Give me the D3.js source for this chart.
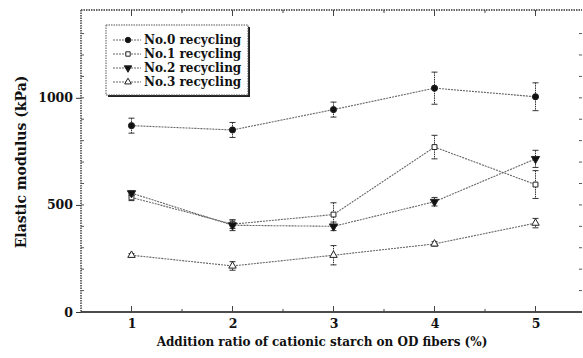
<!DOCTYPE html>
<html>
<head>
<meta charset="utf-8">
<script src="https://cdn.jsdelivr.net/npm/d3@7"></script>
<style>
  body { margin: 0; background: #fff; overflow: hidden; }
  svg { display: block; }
  svg text { font-family: "DejaVu Serif", "Liberation Serif", serif; font-weight: bold; fill: #111; }
</style>
</head>
<body>
<div id="chart"></div>
<script>
'use strict';

const ratios = [1, 2, 3, 4, 5];
const seriesNames = ['No.0 recycling', 'No.1 recycling', 'No.2 recycling', 'No.3 recycling'];
const no0 = [870, 850, 945, 1045, 1005];
const no0Err = [35, 35, 35, 75, 65];
const no1 = [535, 410, 455, 770, 595];
const no1Err = [15, 20, 55, 55, 65];
const no2 = [555, 405, 400, 515, 715];
const no2Err = [10, 25, 20, 20, 40];
const no3 = [265, 215, 265, 318, 415];
const no3Err = [8, 20, 45, 10, 22];
const yTicks = [0, 500, 1000];
const xLabel = 'Addition ratio of cationic starch on OD fibers (%)';
const yLabel = 'Elastic modulus (kPa)';

const width = 583, height = 358;
const padding = { top: 10, right: 1, bottom: 46, left: 81 };
const innerWidth = width - padding.left - padding.right;
const innerHeight = height - padding.top - padding.bottom;

const svg = d3.select('#chart').append('svg')
  .attr('width', width).attr('height', height);
const graph = svg.append('g')
  .attr('transform', 'translate(' + padding.left + ',' + padding.top + ')');

let x = d3.scaleLinear().domain([0.5, 5.5]).range([0, innerWidth + 4]);
let y = d3.scaleLinear().domain([0, 1410]).range([innerHeight, 0]);

// frame: dotted top / left / right, solid bottom
const frame = graph.append('g').attr('stroke', '#333').attr('fill', 'none');
frame.append('line').attr('x1', 0).attr('x2', innerWidth).attr('y1', 0).attr('y2', 0)
  .attr('stroke-dasharray', '1.5,1').attr('stroke-width', 1.4);
frame.append('line').attr('x1', 0).attr('x2', 0).attr('y1', 0).attr('y2', innerHeight)
  .attr('stroke-dasharray', '1.5,1').attr('stroke-width', 1.4);
frame.append('line').attr('x1', 0).attr('x2', innerWidth).attr('y1', innerHeight).attr('y2', innerHeight)
  .attr('stroke-width', 1.6).attr('stroke', '#111');

// y axis
const yAxis = d3.axisLeft(y).tickValues(yTicks).tickSize(5).tickPadding(3).tickFormat(d3.format('d'));
const yG = graph.append('g').call(yAxis);
yG.select('.domain').remove();
yG.selectAll('text').attr('font-size', 12.5);
yG.selectAll('line').attr('stroke', '#333');
// minor y ticks
graph.append('g').selectAll('line').data(d3.range(100, 1400, 100))
  .enter().append('line')
  .attr('x1', 0).attr('x2', 3)
  .attr('y1', d => y(d)).attr('y2', d => y(d))
  .attr('stroke', '#555');
// right-side ticks
graph.append('g').selectAll('line').data(d3.range(100, 1400, 100))
  .enter().append('line')
  .attr('x1', innerWidth - 3).attr('x2', innerWidth)
  .attr('y1', d => y(d)).attr('y2', d => y(d))
  .attr('stroke', '#555');

// x axis
const xAxis = d3.axisBottom(x).tickValues(ratios).tickSize(0).tickPadding(7).tickFormat(d3.format('d'));
const xG = graph.append('g').attr('transform', 'translate(0,' + innerHeight + ')').call(xAxis);
xG.select('.domain').remove();
xG.selectAll('text').attr('font-size', 12.5);
// x ticks pointing up at bottom and down at top
const xTicksAll = ratios.concat([1.5, 2.5, 3.5, 4.5]);
graph.append('g').selectAll('line').data(xTicksAll).enter().append('line')
  .attr('x1', d => x(d)).attr('x2', d => x(d))
  .attr('y1', innerHeight).attr('y2', d => innerHeight - (Number.isInteger(d) ? 6 : 3))
  .attr('stroke', '#444');
graph.append('g').selectAll('line').data(xTicksAll).enter().append('line')
  .attr('x1', d => x(d)).attr('x2', d => x(d))
  .attr('y1', 0).attr('y2', d => (Number.isInteger(d) ? 6 : 3))
  .attr('stroke', '#444');

// axis titles
svg.append('text')
  .attr('x', 322).attr('y', 346)
  .attr('text-anchor', 'middle').attr('font-size', 12)
  .text(xLabel);
svg.append('text')
  .attr('transform', 'translate(26,162) rotate(-90)')
  .attr('text-anchor', 'middle').attr('font-size', 14)
  .text(yLabel);

// series
const series = [
  { name: seriesNames[0], values: no0, err: no0Err, symbol: d3.symbolCircle, size: 30, fill: '#111' },
  { name: seriesNames[1], values: no1, err: no1Err, symbol: d3.symbolSquare, size: 24, fill: '#fff' },
  { name: seriesNames[2], values: no2, err: no2Err, symbol: d3.symbolTriangle, size: 30, fill: '#111', rotate: 180 },
  { name: seriesNames[3], values: no3, err: no3Err, symbol: d3.symbolTriangle, size: 24, fill: '#fff' },
];

const line = d3.line().x((d, i) => x(ratios[i])).y(d => y(d));

series.forEach((s) => {
  const g = graph.append('g');
  g.append('path').datum(s.values)
    .attr('d', line).attr('fill', 'none')
    .attr('stroke', '#666').attr('stroke-width', 1.1)
    .attr('stroke-dasharray', '2,1');

  const eb = g.selectAll('g.err').data(s.values).enter().append('g')
    .attr('class', 'err')
    .attr('stroke', '#333').attr('stroke-width', 1);
  eb.append('line')
    .attr('x1', (d, i) => x(ratios[i])).attr('x2', (d, i) => x(ratios[i]))
    .attr('y1', (d, i) => y(d + s.err[i])).attr('y2', (d, i) => y(d - s.err[i]))
    .attr('stroke-dasharray', '1.5,0.8');
  eb.append('line')
    .attr('x1', (d, i) => x(ratios[i]) - 3).attr('x2', (d, i) => x(ratios[i]) + 3)
    .attr('y1', (d, i) => y(d + s.err[i])).attr('y2', (d, i) => y(d + s.err[i]));
  eb.append('line')
    .attr('x1', (d, i) => x(ratios[i]) - 3).attr('x2', (d, i) => x(ratios[i]) + 3)
    .attr('y1', (d, i) => y(d - s.err[i])).attr('y2', (d, i) => y(d - s.err[i]));

  g.selectAll('path.pt').data(s.values).enter().append('path')
    .attr('class', 'pt')
    .attr('d', d3.symbol().type(s.symbol).size(s.size))
    .attr('transform', (d, i) => 'translate(' + x(ratios[i]) + ',' + y(d) + ')' + (s.rotate ? ' rotate(' + s.rotate + ')' : ''))
    .attr('fill', s.fill).attr('stroke', '#222').attr('stroke-width', 1);
});

// legend
const lx = 106 - padding.left, ly = 25 - padding.top;
const legend = graph.append('g').attr('transform', 'translate(' + lx + ',' + ly + ')');
legend.append('rect').attr('x', 2).attr('y', 2).attr('width', 142).attr('height', 70).attr('fill', '#222');
legend.append('rect').attr('width', 142).attr('height', 70)
  .attr('fill', '#fff').attr('stroke', '#555').attr('stroke-dasharray', '1.5,1');
series.forEach((s, i) => {
  const row = legend.append('g').attr('transform', 'translate(0,' + (15 + i * 14) + ')');
  row.append('line').attr('x1', 7).attr('x2', 35).attr('y1', 0).attr('y2', 0)
    .attr('stroke', '#666').attr('stroke-dasharray', '2,1');
  row.append('path').attr('d', d3.symbol().type(s.symbol).size(s.size * 0.8))
    .attr('transform', 'translate(22,0)' + (s.rotate ? ' rotate(' + s.rotate + ')' : ''))
    .attr('fill', s.fill).attr('stroke', '#222');
  row.append('text').attr('x', 38).attr('y', 4).attr('font-size', 12).text(s.name);
});
</script>
</body>
</html>
